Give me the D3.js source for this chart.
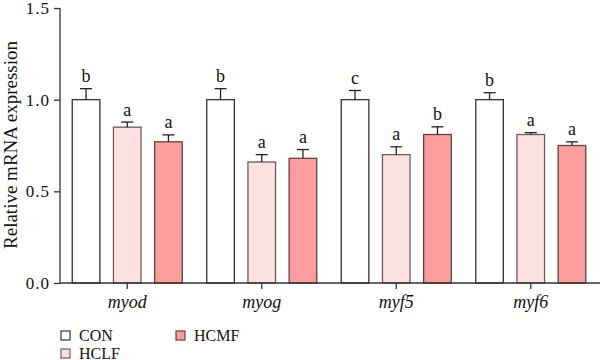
<!DOCTYPE html>
<html><head><meta charset="utf-8">
<script src="https://cdn.jsdelivr.net/npm/d3@7"></script>
<style>body{margin:0;background:#fff}svg{display:block}</style>
</head><body><svg id="c" width="600" height="360"></svg>
<script>
const categories = ["myod","myog","myf5","myf6"];
const groups = ["CON","HCLF","HCMF"];
const conValues = [1.0, 1.0, 1.0, 1.0];
const conErrors = [0.06, 0.06, 0.05, 0.038];
const conLetters = ["b","b","c","b"];
const hclfValues = [0.85, 0.66, 0.70, 0.81];
const hclfErrors = [0.028, 0.04, 0.043, 0.01];
const hclfLetters = ["a","a","a","a"];
const hcmfValues = [0.77, 0.68, 0.81, 0.75];
const hcmfErrors = [0.038, 0.048, 0.042, 0.02];
const hcmfLetters = ["a","a","b","a"];
const yTicks = [0.0, 0.5, 1.0, 1.5];

const fills = {CON:"#ffffff", HCLF:"#fde0e0", HCMF:"#fd9d9d"};
const strokes = {CON:"#333333", HCLF:"#6e5a5a", HCMF:"#5e4242"};
const series = {
  CON:{v:conValues,e:conErrors,l:conLetters},
  HCLF:{v:hclfValues,e:hclfErrors,l:hclfLetters},
  HCMF:{v:hcmfValues,e:hcmfErrors,l:hcmfLetters}
};

const svg = d3.select("#c");
const font = "Liberation Serif, DejaVu Serif, serif";
const x0 = d3.scaleBand().domain(categories).range([60,598]);
const x1 = d3.scaleBand().domain(groups).range([-55,55]).paddingInner(0.33);
const y = d3.scaleLinear().domain([0,1.5]).range([283,8]);

const g = svg.append("g");
categories.forEach((c,i)=>{
  groups.forEach(s=>{
    const d = series[s];
    const cx = x0(c)+x0.bandwidth()/2;
    const bx = cx + x1(s);
    const bw = x1.bandwidth();
    const top = y(d.v[i]);
    const et = y(d.v[i]+d.e[i]);
    g.append("rect").attr("x",bx).attr("y",top).attr("width",bw).attr("height",y(0)-top)
      .attr("fill",fills[s]).attr("stroke",strokes[s]).attr("stroke-width",1.3);
    g.append("line").attr("x1",bx+bw/2).attr("x2",bx+bw/2).attr("y1",top).attr("y2",et)
      .attr("stroke","#222").attr("stroke-width",1.3);
    g.append("line").attr("x1",bx+bw/2-6).attr("x2",bx+bw/2+6).attr("y1",et).attr("y2",et)
      .attr("stroke","#222").attr("stroke-width",1.3);
    g.append("text").attr("x",bx+bw/2).attr("y",et-6.5).attr("text-anchor","middle")
      .style("font-family",font).style("font-size","18px").attr("fill","#111").text(d.l[i]);
  });
});

const yAxis = svg.append("g").attr("transform","translate(60,0)")
  .call(d3.axisLeft(y).tickValues(yTicks).tickFormat(d3.format(".1f")).tickSize(6).tickPadding(4));
yAxis.attr("font-family",null).attr("font-size",null);
yAxis.selectAll("text").style("font-family",font).style("font-size","17px").style("letter-spacing","1px").attr("fill","#111");
yAxis.selectAll("line,path").attr("stroke","#333").attr("stroke-width",1.3);
yAxis.select("path").attr("d","M0,8V283");

const xAxis = svg.append("g").attr("transform","translate(0,283)")
  .call(d3.axisBottom(x0).tickSize(6).tickPadding(6));
xAxis.attr("font-family",null).attr("font-size",null);
xAxis.selectAll("text").style("font-family",font).style("font-size","18px").attr("font-style","italic").attr("fill","#111");
xAxis.selectAll("line,path").attr("stroke","#333").attr("stroke-width",1.3);
xAxis.select("path").attr("d","M60,0H600");

svg.append("text").attr("transform","translate(17,145) rotate(-90)").attr("text-anchor","middle")
  .style("font-family",font).style("font-size","19px").attr("fill","#111").text("Relative mRNA expression");

const legendPos = [{s:"CON",x:61,y:331},{s:"HCLF",x:61,y:349},{s:"HCMF",x:176,y:331}];
legendPos.forEach(p=>{
  svg.append("rect").attr("x",p.x).attr("y",p.y).attr("width",9).attr("height",9)
    .attr("fill",fills[p.s]).attr("stroke",strokes[p.s]).attr("stroke-width",1.2);
  svg.append("text").attr("x",p.x+18).attr("y",p.y+9.5).style("font-family",font).style("font-size","16px")
    .attr("fill","#111").text(p.s);
});
</script></body></html>
